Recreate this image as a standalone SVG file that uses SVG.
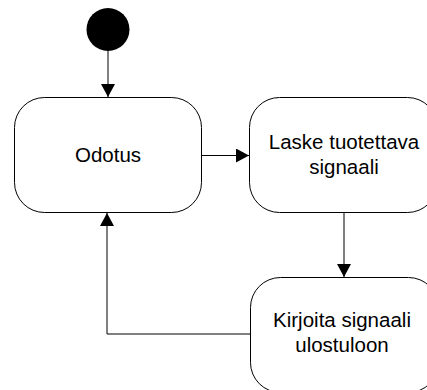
<svg xmlns="http://www.w3.org/2000/svg" width="427" height="390" viewBox="0 0 427 390">
  <style>
    .state { fill: #ffffff; stroke: #000000; stroke-width: 1; }
    .label { font-family: "Liberation Sans", Arial, sans-serif; font-size: 20.5px; fill: #000000; text-anchor: middle; }
    .edge { fill: none; stroke: #000000; stroke-width: 1; marker-end: url(#arrow); }
  </style>
  <defs>
    <marker id="arrow" viewBox="0 0 13 14" refX="13" refY="7" markerWidth="13" markerHeight="14" markerUnits="userSpaceOnUse" orient="auto">
      <path d="M0,0 L13,7 L0,14 Z" fill="#000000"/>
    </marker>
  </defs>
  <rect width="427" height="390" fill="#ffffff"/>

  <g id="connectors">
    <line class="edge" x1="108" y1="51" x2="108" y2="97"/>
    <line class="edge" x1="202" y1="155.5" x2="249" y2="155.5"/>
    <line class="edge" x1="344" y1="212" x2="344" y2="277"/>
    <polyline class="edge" points="250,334 107,334 107,213"/>
  </g>

  <g id="start">
    <circle cx="108" cy="29.5" r="21.5" fill="#000000"/>
  </g>

  <g id="odotus">
    <rect class="state" x="14.5" y="97.5" width="187" height="115" rx="30" ry="30"/>
    <text class="label" x="108" y="162">Odotus</text>
  </g>

  <g id="laske">
    <rect class="state" x="249.5" y="97.5" width="188" height="115" rx="30" ry="30"/>
    <text class="label" x="344" y="149">Laske tuotettava</text>
    <text class="label" x="344" y="174">signaali</text>
  </g>

  <g id="kirjoita">
    <rect class="state" x="250.5" y="277.5" width="188" height="115" rx="30" ry="30"/>
    <text class="label" x="342" y="327">Kirjoita signaali</text>
    <text class="label" x="342" y="352">ulostuloon</text>
  </g>
</svg>
